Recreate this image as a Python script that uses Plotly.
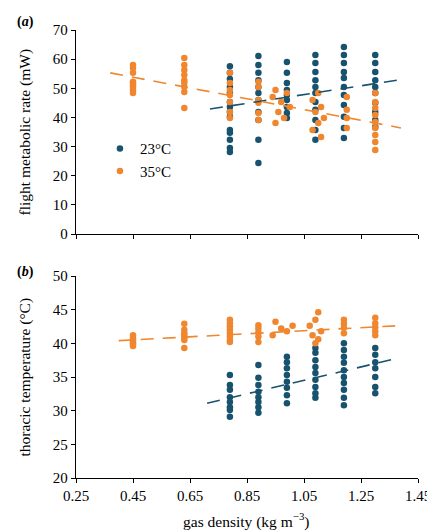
import plotly.graph_objects as go

# ---------------- data ----------------
# panel (a): flight metabolic rate (mW)
a23_x = [0.79, 0.89, 0.99, 1.09, 1.19, 1.30]
a23_y = [
    [57.6, 55.3, 53.2, 50.4, 48.4, 45.3, 43.6, 41.9, 40.2, 35.7, 34.7, 32.3, 29.5, 28.1],
    [61.1, 58.0, 55.3, 52.8, 50.4, 48.4, 46.0, 41.9, 39.1, 32.3, 24.4],
    [59.0, 55.3, 51.8, 49.4, 47.7, 46.0, 43.6, 41.5, 39.8],
    [61.4, 58.7, 55.6, 52.8, 50.4, 48.4, 45.3, 42.6, 39.1, 35.7, 32.3],
    [64.2, 61.4, 58.7, 55.6, 53.5, 50.4, 47.7, 44.3, 40.2, 36.4, 32.9],
    [61.4, 58.7, 55.6, 52.8, 50.4, 48.4, 45.0, 41.9, 39.1, 36.7],
]
a35_x = [0.45, 0.63, 0.79, 0.89,
         [0.95, 0.99, 0.94, 0.97, 1.00, 0.96, 0.98, 0.95],
         [1.10, 1.08, 1.11, 1.09, 1.12, 1.10, 1.08, 1.11],
         1.20, 1.30]
a35_y = [
    [58.0, 57.0, 55.3, 52.2, 51.8, 51.1, 50.4, 49.4, 48.4],
    [60.4, 58.0, 56.3, 54.6, 52.8, 51.8, 50.4, 48.7, 43.2],
    [55.3, 51.8, 49.4, 47.7, 45.3, 41.9, 39.8],
    [52.2, 50.4, 46.0, 45.0, 41.5, 39.1],
    [49.4, 48.4, 47.0, 45.3, 43.6, 41.9, 39.8, 38.1],
    [48.4, 46.0, 43.6, 41.9, 39.8, 38.1, 35.7, 33.3],
    [47.0, 42.6, 39.8, 36.4],
    [48.4, 45.3, 43.2, 40.8, 38.4, 36.4, 34.0, 31.6, 28.8],
]
# panel (b): thoracic temperature (°C)
b23_x = [0.79, 0.89, 0.99, 1.09, 1.19, 1.30]
b23_y = [
    [35.3, 33.8, 33.1, 32.0, 31.3, 30.5, 30.1, 29.1],
    [36.8, 34.9, 33.8, 32.8, 32.0, 31.3, 30.5, 29.7],
    [38.0, 37.2, 36.3, 35.3, 34.3, 33.4, 32.3, 31.1],
    [39.3, 38.6, 37.5, 36.5, 35.6, 34.6, 33.5, 32.6, 31.9],
    [40.0, 39.0, 38.0, 37.1, 36.0, 35.0, 34.1, 33.1, 31.9, 30.8],
    [39.3, 38.3, 37.2, 36.3, 35.0, 33.5, 32.6],
]
b35_x = [0.45, 0.63, 0.79, 0.89,
         [0.95, 1.01, 0.97, 0.99, 0.94],
         [1.10, 1.09, 1.07, 1.11, 1.08, 1.10, 1.09],
         1.19, 1.30]
b35_y = [
    [41.2, 40.8, 40.5, 40.2, 40.0, 39.8, 39.6],
    [42.9, 42.0, 41.5, 41.2, 40.8, 40.5, 39.3],
    [43.5, 43.0, 42.5, 42.0, 41.5, 41.0, 40.5, 40.2],
    [42.7, 42.2, 41.6, 41.0, 40.2],
    [43.2, 42.6, 42.2, 41.8, 41.2],
    [44.6, 43.5, 42.6, 41.8, 41.2, 40.6, 40.0],
    [43.5, 42.9, 42.3, 41.5],
    [43.8, 43.0, 42.4, 41.8, 41.2],
]
# regression lines (end points)
fit_a23_x, fit_a23_y = [0.72, 1.38], [42.9, 52.8]
fit_a35_x, fit_a35_y = [0.37, 1.39], [55.3, 36.4]
fit_b23_x, fit_b23_y = [0.71, 1.37], [31.1, 37.7]
fit_b35_x, fit_b35_y = [0.40, 1.37], [40.4, 42.6]

x_ticks = [0.25, 0.45, 0.65, 0.85, 1.05, 1.25, 1.45]
x_tick_labels = ["0.25", "0.45", "0.65", "0.85", "1.05", "1.25", "1.45"]

BLUE = "#17526f"
ORANGE = "#f0862e"
FONT = "Liberation Serif"


def flatten(xs, ys):
    fx, fy = [], []
    for x, col in zip(xs, ys):
        xl = x if isinstance(x, list) else [x] * len(col)
        fx.extend(xl)
        fy.extend(col)
    return fx, fy


fig = go.Figure()

for xs, ys, color, name, yax, show in [
    (a23_x, a23_y, BLUE, "23°C", "y", True),
    (a35_x, a35_y, ORANGE, "35°C", "y", True),
    (b23_x, b23_y, BLUE, "23°C", "y2", False),
    (b35_x, b35_y, ORANGE, "35°C", "y2", False),
]:
    fx, fy = flatten(xs, ys)
    fig.add_trace(go.Scatter(
        x=fx, y=fy, mode="markers", name=name, showlegend=show,
        xaxis="x" if yax == "y" else "x2", yaxis=yax,
        marker=dict(color=color, size=6.5, line=dict(width=0)),
    ))

for fx, fy, color, yax in [
    (fit_a23_x, fit_a23_y, BLUE, "y"),
    (fit_a35_x, fit_a35_y, ORANGE, "y"),
    (fit_b23_x, fit_b23_y, BLUE, "y2"),
    (fit_b35_x, fit_b35_y, ORANGE, "y2"),
]:
    fig.add_trace(go.Scatter(
        x=fx, y=fy, mode="lines", showlegend=False,
        xaxis="x" if yax == "y" else "x2", yaxis=yax,
        line=dict(color=color, width=1.6, dash="13px,9px"),
    ))

axis_common = dict(
    showgrid=False, zeroline=False, showline=True, linecolor="black", linewidth=1.3,
    ticks="outside", ticklen=4, tickcolor="black", tickwidth=1.2,
    tickfont=dict(family=FONT, size=15, color="black"),
)

dom_a = [(478 - 234) / 448, 1.0]
dom_b = [0.0, (478 - 276) / 448]

# page body has an 8px offset; margins compensate so the plot lands at the reference pixels
fig.update_layout(
    width=435, height=531,
    margin=dict(l=68, r=22, t=22, b=61),
    paper_bgcolor="white", plot_bgcolor="white",
    font=dict(family=FONT, size=14, color="black"),
    xaxis=dict(axis_common, range=[0.25, 1.45], tickvals=x_ticks, ticktext=x_tick_labels,
               showticklabels=False, anchor="y"),
    yaxis=dict(axis_common, range=[0, 70], dtick=10, domain=dom_a, anchor="x"),
    xaxis2=dict(axis_common, range=[0.25, 1.45], tickvals=x_ticks, ticktext=x_tick_labels,
                anchor="y2"),
    yaxis2=dict(axis_common, range=[20, 50], dtick=5, domain=dom_b, anchor="x2"),
    legend=dict(x=0.07, y=0.772, xanchor="left", yanchor="top",
                bgcolor="rgba(0,0,0,0)", font=dict(family=FONT, size=15),
                itemwidth=30, tracegroupgap=0),
    showlegend=True,
)

TITLE_SIZE = 15.5
annotations = [
    dict(text="flight metabolic rate (mW)", x=(25 - 76) / 345, y=(dom_a[0] + dom_a[1]) / 2,
         xref="paper", yref="paper", textangle=-90, showarrow=False,
         font=dict(family=FONT, size=TITLE_SIZE), xanchor="center", yanchor="middle"),
    dict(text="thoracic temperature (°C)", x=(25 - 76) / 345, y=(dom_b[0] + dom_b[1]) / 2,
         xref="paper", yref="paper", textangle=-90, showarrow=False,
         font=dict(family=FONT, size=TITLE_SIZE), xanchor="center", yanchor="middle"),
    dict(text="gas density (kg m<sup>−3</sup>)", x=(248 - 76) / 345, y=-42 / 448,
         xref="paper", yref="paper", showarrow=False,
         font=dict(family=FONT, size=TITLE_SIZE), xanchor="center", yanchor="middle"),
    dict(text="<b>(<i>a</i>)</b>", x=(25 - 76) / 345, y=(478 - 22) / 448,
         xref="paper", yref="paper", showarrow=False,
         font=dict(family=FONT, size=14), xanchor="center", yanchor="middle"),
    dict(text="<b>(<i>b</i>)</b>", x=(25 - 76) / 345, y=(478 - 272) / 448,
         xref="paper", yref="paper", showarrow=False,
         font=dict(family=FONT, size=14), xanchor="center", yanchor="middle"),
]
fig.update_layout(annotations=annotations)

fig.write_html("out.html")
